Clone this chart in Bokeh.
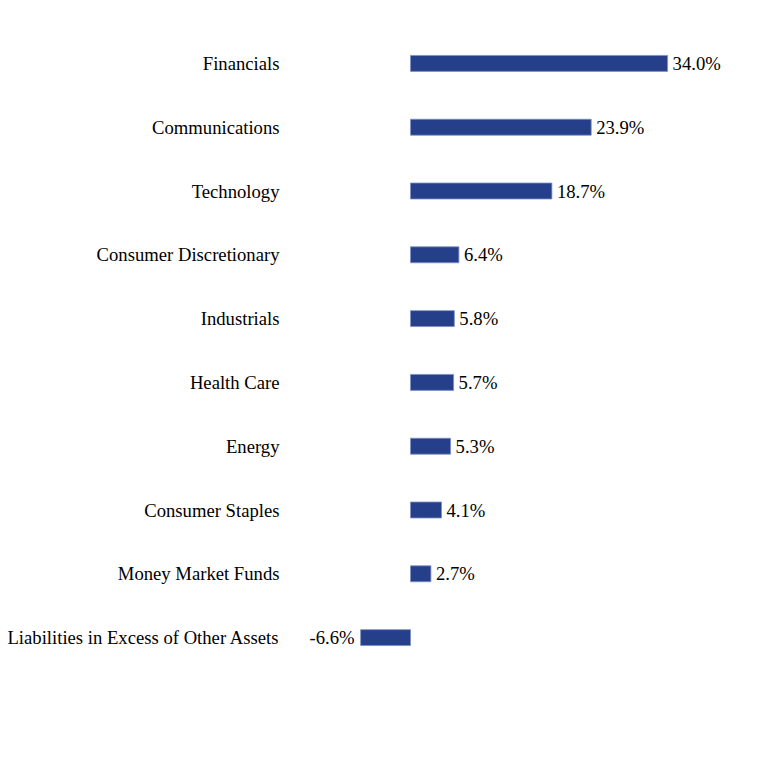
from bokeh.plotting import figure
from bokeh.models import ColumnDataSource, FactorRange, Range1d, LabelSet
from bokeh.embed import file_html
from bokeh.resources import INLINE

categories = ["Financials", "Communications", "Technology", "Consumer Discretionary",
              "Industrials", "Health Care", "Energy", "Consumer Staples",
              "Money Market Funds", "Liabilities in Excess of Other Assets"]
values = [34.0, 23.9, 18.7, 6.4, 5.8, 5.7, 5.3, 4.1, 2.7, -6.6]
labels = [f"{v:.1f}%" for v in values]

FONT = "Liberation Serif"
BAR = "#263F8B"

pos = dict(cat=[c for c, v in zip(categories, values) if v >= 0],
           val=[v for v in values if v >= 0],
           lab=[l for l, v in zip(labels, values) if v >= 0])
neg = dict(cat=[c for c, v in zip(categories, values) if v < 0],
           val=[v for v in values if v < 0],
           lab=[l for l, v in zip(labels, values) if v < 0])
src = ColumnDataSource(dict(cat=categories, val=values))
src_pos = ColumnDataSource(pos)
src_neg = ColumnDataSource(neg)

p = figure(width=768, height=780, output_backend="svg", toolbar_location=None,
           y_range=FactorRange(*reversed(categories), range_padding=0),
           x_range=Range1d(-14.55, 47.35),
           min_border_left=300, min_border_right=0, min_border_top=31, min_border_bottom=111)

p.hbar(y="cat", right="val", left=0, height=0.25, source=src,
       fill_color=BAR, line_color="#7d8fc4", line_width=0.8)

p.add_layout(LabelSet(x="val", y="cat", text="lab", source=src_pos, x_offset=5,
                      text_align="left", text_baseline="middle",
                      text_font=FONT, text_font_size="14pt", text_color="#000000"))
p.add_layout(LabelSet(x="val", y="cat", text="lab", source=src_neg, x_offset=-6,
                      text_align="right", text_baseline="middle",
                      text_font=FONT, text_font_size="14pt", text_color="#000000"))

p.xaxis.visible = False
p.yaxis.axis_line_color = None
p.yaxis.major_tick_line_color = None
p.yaxis.minor_tick_line_color = None
p.yaxis.major_label_standoff = 15
p.yaxis.major_label_text_font = FONT
p.yaxis.major_label_text_font_size = "14pt"
p.yaxis.major_label_text_color = "#000000"
p.xgrid.visible = False
p.ygrid.visible = False
p.outline_line_color = None
p.background_fill_color = "white"
p.border_fill_color = "white"

open("out.html", "w").write(file_html(p, INLINE))
